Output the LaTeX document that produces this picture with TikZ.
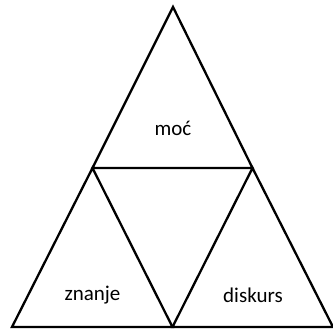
\documentclass[tikz,border=0pt]{standalone}
\usepackage{fontspec}
\setmainfont{Carlito}
\begin{document}
\begin{tikzpicture}[x=1pt,y=-1pt,line width=2.3pt,line join=miter]
        \useasboundingbox (0,0) rectangle (333,332);
        \coordinate (top) at (173,7);
        \coordinate (bl) at (12,327);
        \coordinate (br) at (333,327);
        \coordinate (ml) at (92.5,168);
        \coordinate (mr) at (252.5,168);
        \coordinate (bm) at (172.5,327);
        \draw (top) -- (mr) -- (ml) -- cycle;
        \draw (ml) -- (bm) -- (bl) -- cycle;
        \draw (mr) -- (br) -- (bm) -- cycle;
        \path (173,128) node [font=\fontsize{21}{25}\selectfont] (moc) {moć};
        \path (92.5,295) node [font=\fontsize{21}{25}\selectfont] (znanje) {znanje};
        \path (253,295) node [font=\fontsize{21}{25}\selectfont] (diskurs) {diskurs};
    \end{tikzpicture}
\end{document}
